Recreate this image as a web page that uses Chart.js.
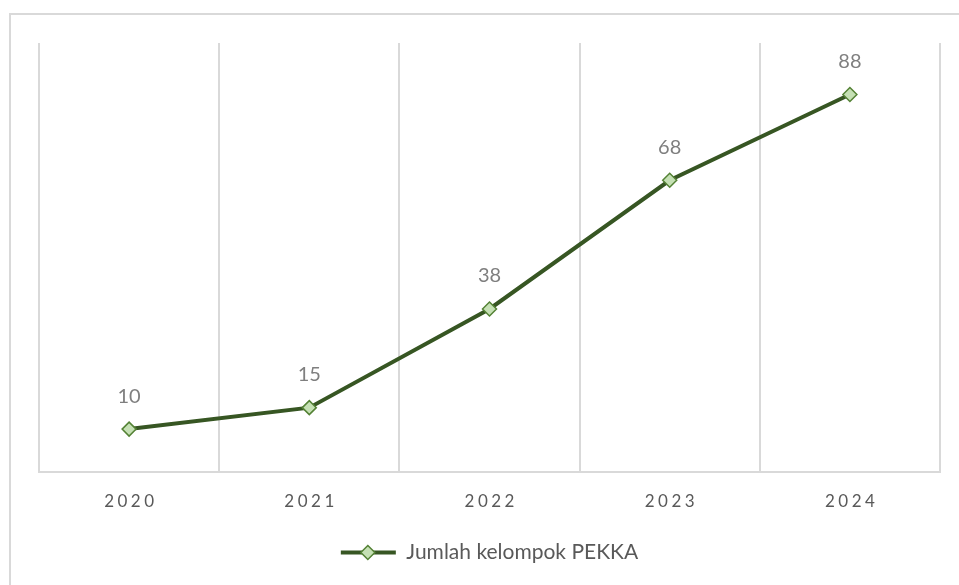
<!DOCTYPE html>
<html>
<head>
<meta charset="utf-8">
<script src="https://cdn.jsdelivr.net/npm/chart.js@4"></script>
<style>
  html, body { margin: 0; padding: 0; background: #fff; }
  #wrap { position: relative; width: 959px; height: 585px; }
  #frame { position: absolute; left: 9px; top: 13px; right: 0; bottom: 0;
           border-top: 2px solid #d9d9d9; border-left: 2px solid #d9d9d9; }
  #chart { position: absolute; left: 0; top: 0; }
</style>
</head>
<body>
<div id="wrap">
  <div id="frame"></div>
  <canvas id="chart" width="959" height="585"></canvas>
</div>
<script>
const years = ['2020', '2021', '2022', '2023', '2024'];
const groups = [10, 15, 38, 68, 88];
const seriesName = 'Jumlah kelompok PEKKA';

const lineColor = '#375623';
const markerFill = '#c5e0b4';
const markerEdge = '#548235';
const gridColor = '#d9d9d9';
const fontFamily = 'Lato, "Open Sans", sans-serif';

// value labels above each point
const valueLabels = {
    id: 'valueLabels',
    afterDatasetsDraw(chart) {
        const ctx = chart.ctx;
        const meta = chart.getDatasetMeta(0);
        ctx.save();
        ctx.font = '20px ' + fontFamily;
        ctx.fillStyle = '#7f7f7f';
        ctx.textAlign = 'center';
        ctx.textBaseline = 'middle';
        meta.data.forEach((pt, i) => {
            ctx.fillText(String(chart.data.datasets[0].data[i]), pt.x, pt.y - 33);
        });
        ctx.restore();
    }
};

// spaced-out tick labels on the x axis only
const tickSpacing = {
    id: 'tickSpacing',
    afterLayout(chart) {
        const scale = chart.scales.x;
        if (scale._spaced) return;
        const orig = scale.drawLabels.bind(scale);
        scale.drawLabels = function(area) {
            const ctx = chart.ctx;
            ctx.save();
            ctx.letterSpacing = '3.5px';
            ctx.translate(1.75, 0);
            orig(area);
            ctx.restore();
        };
        scale._spaced = true;
    }
};

// diamond on top of the legend line
const legendDiamond = {
    id: 'legendDiamond',
    afterDraw(chart) {
        const boxes = chart.legend.legendHitBoxes;
        if (!boxes || !boxes.length) return;
        const b = boxes[0];
        const cx = b.left + 27;
        const cy = b.top + b.height / 2;
        const ctx = chart.ctx;
        ctx.save();
        ctx.beginPath();
        ctx.moveTo(cx, cy - 7);
        ctx.lineTo(cx + 7, cy);
        ctx.lineTo(cx, cy + 7);
        ctx.lineTo(cx - 7, cy);
        ctx.closePath();
        ctx.fillStyle = markerFill;
        ctx.fill();
        ctx.lineWidth = 1.5;
        ctx.strokeStyle = markerEdge;
        ctx.stroke();
        ctx.restore();
    }
};

new Chart(document.getElementById('chart'), {
    type: 'line',
    data: {
        labels: years,
        datasets: [{
            label: seriesName,
            data: groups,
            borderColor: lineColor,
            backgroundColor: lineColor,
            borderWidth: 4,
            pointStyle: 'rectRot',
            pointRadius: 7,
            pointBackgroundColor: markerFill,
            pointBorderColor: markerEdge,
            pointBorderWidth: 1.5,
            tension: 0,
        }]
    },
    options: {
        responsive: false,
        animation: false,
        layout: { padding: { left: 39, right: 19, top: 43, bottom: 12 } },
        scales: {
            x: {
                offset: true,
                grid: { offset: true, color: gridColor, lineWidth: 2, drawTicks: false },
                border: { color: gridColor, width: 2 },
                ticks: {
                    color: '#595959',
                    padding: 19,
                    font: { size: 17, family: fontFamily },
                },
                afterFit(scale) { scale.height = 60; },
            },
            y: {
                display: false,
                min: 0,
                max: 100,
            },
        },
        plugins: {
            legend: {
                position: 'bottom',
                labels: {
                    boxWidth: 55,
                    boxHeight: 4,
                    padding: 10,
                    color: '#595959',
                    font: { size: 21, family: fontFamily },
                    generateLabels(chart) {
                        return [{
                            text: seriesName,
                            fillStyle: lineColor,
                            strokeStyle: lineColor,
                            lineWidth: 0,
                            fontColor: '#595959',
                            datasetIndex: 0,
                        }];
                    },
                },
            },
            tooltip: { enabled: false },
        },
    },
    plugins: [valueLabels, tickSpacing, legendDiamond],
});
</script>
</body>
</html>
